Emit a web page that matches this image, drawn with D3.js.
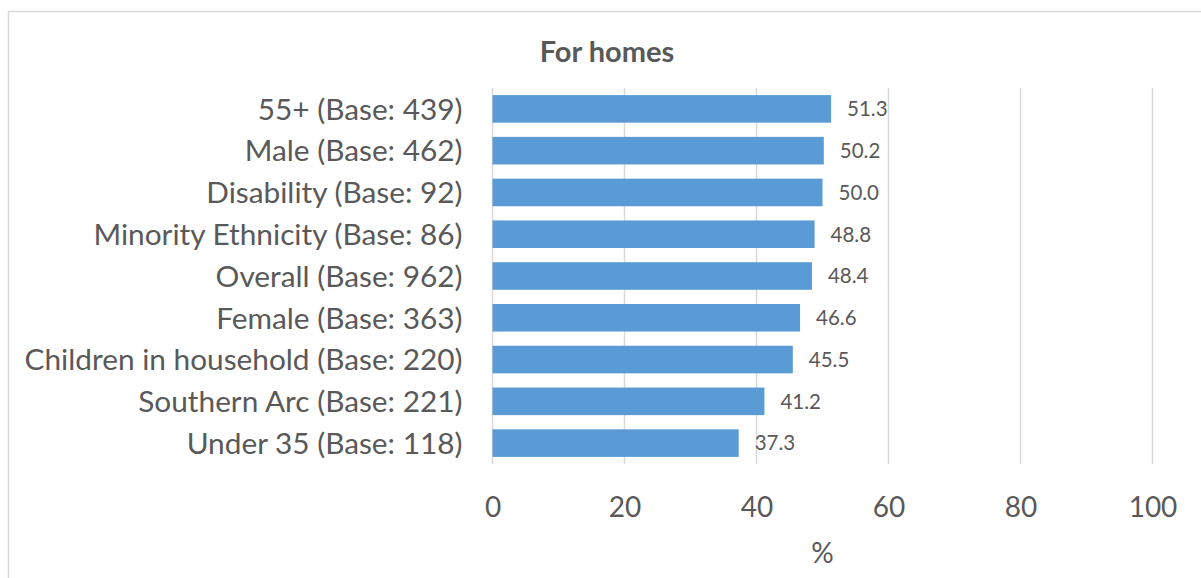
<!DOCTYPE html>
<html><head><meta charset="utf-8">
<script src="https://cdn.jsdelivr.net/npm/d3@7"></script>
<style>html,body{margin:0;padding:0;background:#fff;overflow:hidden}</style>
</head><body>
<svg id="c" width="1201" height="578"></svg>
<script>
const categories = ["55+ (Base: 439)","Male (Base: 462)","Disability (Base: 92)","Minority Ethnicity (Base: 86)","Overall (Base: 962)","Female (Base: 363)","Children in household (Base: 220)","Southern Arc (Base: 221)","Under 35 (Base: 118)"];
const values = [51.3,50.2,50.0,48.8,48.4,46.6,45.5,41.2,37.3];
const tickValues = [0,20,40,60,80,100];
const title = "For homes";
const axisTitle = "%";

const FONT = "Lato, 'Open Sans', sans-serif";
const TXT = "#595959";
const svg = d3.select("#c");

svg.append("rect").attr("x",8.5).attr("y",11.5).attr("width",1400).attr("height",800)
  .attr("fill","#fff").attr("stroke","#d9d9d9").attr("stroke-width",1.5);

const x = d3.scaleLinear().domain([0,100]).range([492.5,1152.5]);
const y = d3.scaleBand().domain(categories).range([88,464]).paddingInner(0.34).paddingOuter(0.17);

svg.append("g").selectAll("line").data(tickValues).join("line")
  .attr("x1",d=>x(d)).attr("x2",d=>x(d)).attr("y1",88).attr("y2",464)
  .attr("stroke","#d9d9d9").attr("stroke-width",1.5);

svg.append("g").selectAll("rect").data(values).join("rect")
  .attr("x",x(0)).attr("y",(d,i)=>y(categories[i]))
  .attr("width",d=>x(d)-x(0)).attr("height",y.bandwidth())
  .attr("fill","#5b9bd5");

svg.append("g").selectAll("text").data(values).join("text")
  .attr("x",d=>x(d)+16).attr("y",(d,i)=>y(categories[i])+y.bandwidth()/2)
  .attr("dy","0.36em").attr("font-family",FONT).attr("font-size",20.5).attr("fill",TXT)
  .text(d=>d.toFixed(1));

const ya = d3.axisLeft(y).tickSize(0).tickPadding(30);
const gy = svg.append("g").attr("transform","translate(492.5,0)").call(ya);
gy.select(".domain").remove();
gy.selectAll("text").attr("font-family",FONT).attr("font-size",29.8).attr("fill",TXT).attr("dy","0.36em");

const xa = d3.axisBottom(x).tickValues(tickValues).tickSize(0).tickPadding(0);
const gx = svg.append("g").attr("transform","translate(0,496)").call(xa);
gx.select(".domain").remove();
gx.selectAll("text").attr("font-family",FONT).attr("font-size",28).attr("fill",TXT).attr("dy","0.74em");

svg.append("text").attr("x",(x(0)+x(100))/2).attr("y",563).attr("text-anchor","middle")
  .attr("font-family",FONT).attr("font-size",28).attr("fill",TXT).text(axisTitle);

svg.append("text").attr("x",607).attr("y",62).attr("text-anchor","middle")
  .attr("font-family",FONT).attr("font-weight","bold").attr("font-size",29).attr("fill",TXT).text(title);
</script>
</body></html>
